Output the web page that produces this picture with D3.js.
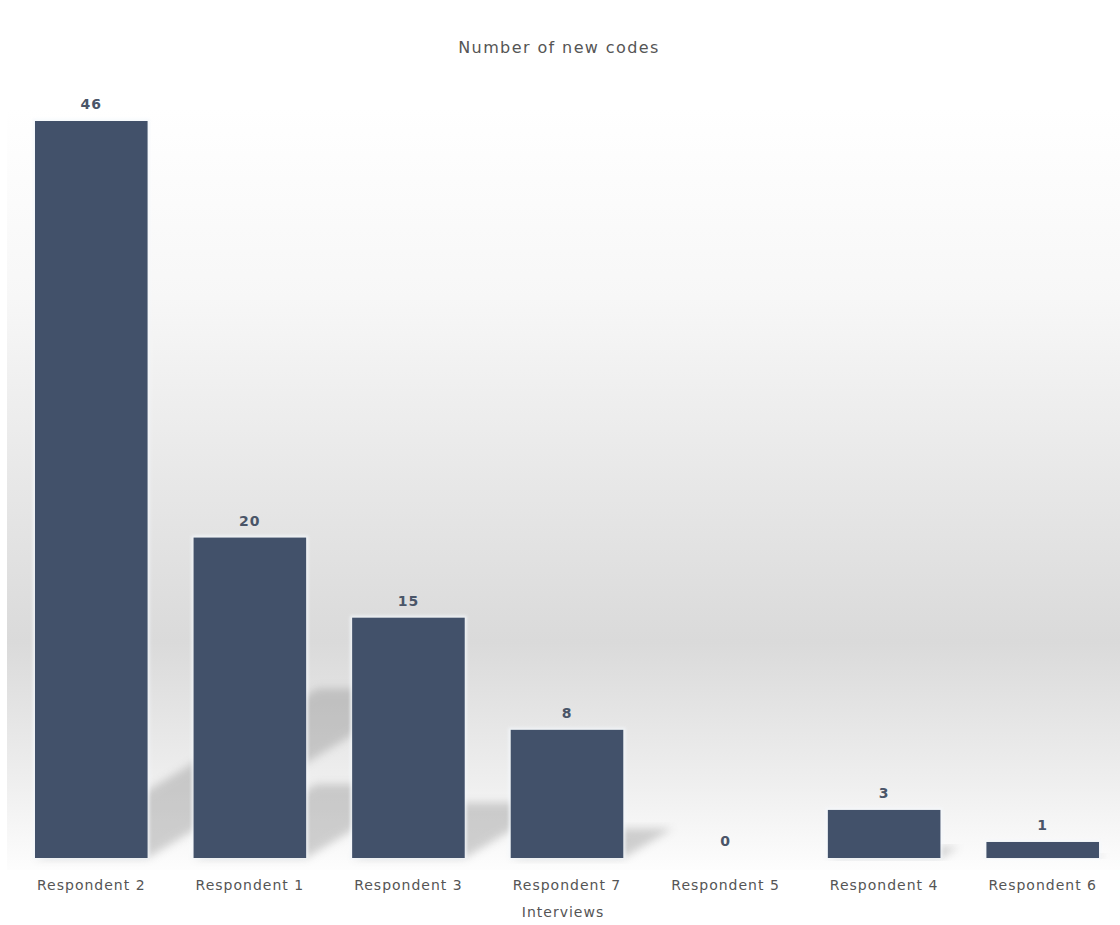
<!DOCTYPE html>
<html>
<head>
<meta charset="utf-8">
<script src="https://cdn.jsdelivr.net/npm/d3@7"></script>
<style>
  body { margin: 0; background: #fff; }
  text { font-family: "DejaVu Sans", Verdana, sans-serif; }
</style>
</head>
<body>
<div id="content"></div>
<script>
// data
var categories = ['Respondent 2', 'Respondent 1', 'Respondent 3', 'Respondent 7', 'Respondent 5', 'Respondent 4', 'Respondent 6'];
var newCodes   = [46, 20, 15, 8, 0, 3, 1];
var chartTitle = 'Number of new codes';
var xTitle     = 'Interviews';

var W = 1120, H = 925;
var barColor = '#42516a';
var plotTop = 108, plotBottom = 858, plotLeft = 7, plotRight = 1120;

var svg = d3.select('#content').append('svg')
    .attr('width', W)
    .attr('height', H);

var defs = svg.append('defs');

var bg = defs.append('linearGradient').attr('id', 'bgGrad')
    .attr('x1', 0).attr('y1', 0).attr('x2', 0).attr('y2', 1);
bg.append('stop').attr('offset', '0%').attr('stop-color', '#ffffff');
bg.append('stop').attr('offset', '25%').attr('stop-color', '#f7f7f7');
bg.append('stop').attr('offset', '70%').attr('stop-color', '#dadada');
bg.append('stop').attr('offset', '88%').attr('stop-color', '#eeeeee');
bg.append('stop').attr('offset', '100%').attr('stop-color', '#fdfdfd');

defs.append('filter').attr('id', 'blur')
    .attr('x', '-20%').attr('y', '-20%').attr('width', '140%').attr('height', '140%')
    .append('feGaussianBlur').attr('stdDeviation', 4);

defs.append('filter').attr('id', 'glow')
    .attr('x', '-20%').attr('y', '-20%').attr('width', '140%').attr('height', '140%')
    .append('feGaussianBlur').attr('stdDeviation', 1.5);

// background of the plot area
svg.append('rect')
    .attr('x', plotLeft).attr('y', plotTop)
    .attr('width', plotRight - plotLeft).attr('height', plotBottom - plotTop + 12)
    .attr('fill', 'url(#bgGrad)');

var x = d3.scaleBand()
    .domain(categories)
    .range([12, 1122])
    .paddingInner(0.29)
    .paddingOuter(0.145);

var y = d3.scaleLinear()
    .domain([0, 46])
    .range([plotBottom, 121]);

var data = categories.map(function(c, i){ return {name: c, value: newCodes[i]}; });

//shadows thrown up and to the right
var shadowK = 0.23, slope = 0.6;
svg.append('g').selectAll('path')
    .data(data.filter(function(d){ return d.value > 0; }))
    .enter().append('path')
    .attr('d', function(d){
        var x0 = x(d.name), x1 = x0 + x.bandwidth();
        var dy = (plotBottom - y(d.value)) * shadowK;
        var dx = dy / slope;
        return 'M' + x0 + ',' + plotBottom +
            'L' + x1 + ',' + plotBottom +
            'L' + (x1 + dx) + ',' + (plotBottom - dy) +
            'L' + (x0 + dx) + ',' + (plotBottom - dy) + 'Z';
    })
    .attr('fill', '#8a8a8a')
    .attr('opacity', 0.38)
    .attr('filter', 'url(#blur)');

// light halo around bars
svg.append('g').selectAll('rect')
    .data(data.filter(function(d){ return d.value > 0; }))
    .enter().append('rect')
    .attr('x', function(d){ return x(d.name) - 2; })
    .attr('y', function(d){ return y(d.value) - 2; })
    .attr('width', x.bandwidth() + 4)
    .attr('height', function(d){ return plotBottom - y(d.value) + 3; })
    .attr('fill', '#f4f8fc')
    .attr('opacity', 0.8)
    .attr('filter', 'url(#glow)');

svg.append('g').selectAll('rect')
    .data(data)
    .enter().append('rect')
    .attr('x', function(d){ return x(d.name); })
    .attr('y', function(d){ return y(d.value); })
    .attr('width', x.bandwidth())
    .attr('height', function(d){ return plotBottom - y(d.value); })
    .attr('fill', barColor);

// value labels
svg.append('g').selectAll('text')
    .data(data)
    .enter().append('text')
    .attr('x', function(d){ return x(d.name) + x.bandwidth() / 2; })
    .attr('y', function(d){ return y(d.value) - 12; })
    .attr('text-anchor', 'middle')
    .attr('font-size', '14px')
    .attr('font-weight', 'bold')
    .attr('letter-spacing', '1px')
    .attr('fill', '#4a5568')
    .text(function(d){ return d.value; });

// x axis labels, no line or ticks
var xAxis = svg.append('g')
    .attr('transform', 'translate(0,' + plotBottom + ')')
    .call(d3.axisBottom(x).tickSize(0).tickPadding(22));
xAxis.select('.domain').remove();
xAxis.selectAll('text')
    .attr('font-size', '14px')
    .attr('font-family', '"DejaVu Sans", Verdana, sans-serif')
    .attr('letter-spacing', '1px')
    .attr('fill', '#555');

svg.append('text')
    .attr('x', 563)
    .attr('y', 917)
    .attr('text-anchor', 'middle')
    .attr('font-size', '14px')
    .attr('letter-spacing', '1px')
    .attr('fill', '#555')
    .text(xTitle);

svg.append('text')
    .attr('x', 559)
    .attr('y', 53)
    .attr('text-anchor', 'middle')
    .attr('font-size', '16px')
    .attr('letter-spacing', '1.4px')
    .attr('fill', '#555')
    .text(chartTitle);
</script>
</body>
</html>
